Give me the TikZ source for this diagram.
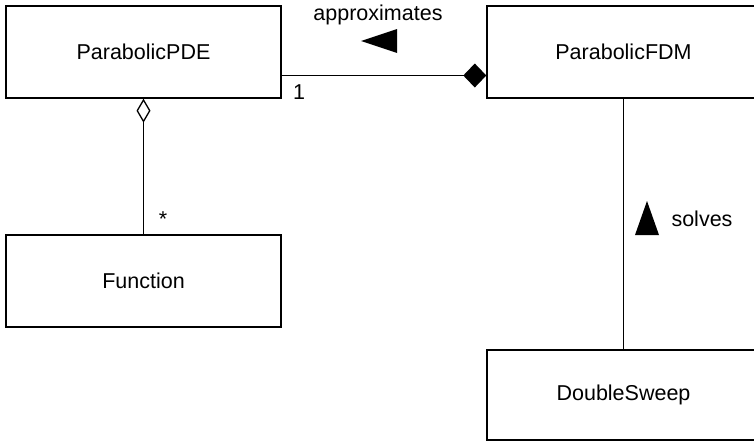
\documentclass[tikz,border=0pt]{standalone}
\usepackage{fontspec}
\setmainfont{Liberation Sans}
\usetikzlibrary{arrows.meta}
\begin{document}
\begin{tikzpicture}[x=1pt,y=-1pt,
  cls/.style={draw=black,line width=1.4pt,fill=white,minimum width=275pt,minimum height=92pt,inner sep=0pt,font=\fontsize{21.5pt}{25pt}\selectfont},
  lbl/.style={inner sep=0pt,font=\fontsize{21.5pt}{25pt}\selectfont},
  conn/.style={line width=1.3pt,draw=black}]
\useasboundingbox (0,0) rectangle (754,442);
\node[cls] (pde) at (143.5,52) {ParabolicPDE};
\node[cls,minimum width=273pt] (fdm) at (623.5,52) {ParabolicFDM};
\node[cls] (fun) at (143.5,281) {Function};
\node[cls,minimum width=273pt,minimum height=90pt] (ds) at (623.5,395) {DoubleSweep};
\draw[conn,-{Diamond[fill=black,length=23pt,width=24pt]}] ([yshift=-23.5pt]pde.east) -- ([yshift=-23.5pt]fdm.west);
\draw[conn,{Diamond[open,fill=white,length=24pt,width=14pt]}-] (pde.south) -- (fun.north);
\draw[conn] (fdm.south) -- (ds.north);
\node[lbl] (appr) at (378,15) {approximates};
\node[lbl] (one) at (299,92) {1};
\node[lbl] (star) at (163,219) {*};
\node[lbl] (solv) at (702,219) {solves};
\fill[black] (361,41) -- (397,29) -- (397,53) -- cycle;
\fill[black] (647,201) -- (635,235) -- (659,235) -- cycle;
\end{tikzpicture}
\end{document}
